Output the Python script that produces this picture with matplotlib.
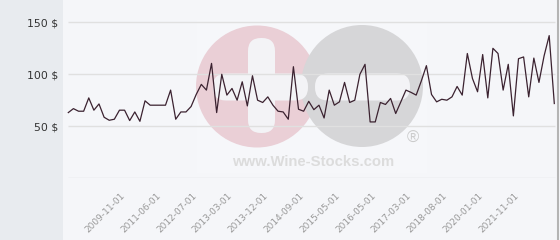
import matplotlib
matplotlib.use("Agg")
import matplotlib.pyplot as plt
from matplotlib.patches import Circle, Rectangle, FancyBboxPatch
import matplotlib.transforms as mtransforms

# monthly price points (USD)
prices = [
    63.2, 67, 64.5, 64.5, 77.3, 65.5, 71.5, 58.7, 55.8, 56.8,
    65.5, 65.5, 55.5, 63.8, 54.8, 74.5, 70.3, 70.3, 70.3, 70.3,
    84.8, 56.8, 63.8, 63.8, 69, 80.6, 90.3, 84.8, 110.5, 63.2,
    100, 80, 86.4, 75.1, 92.8, 69.6, 98.6, 75.1, 72.9, 78.3,
    70.3, 64.5, 63.8, 56.8, 107.3, 66.4, 64.5, 74, 66, 70.3,
    58, 84.8, 70.3, 73.5, 92.2, 72.9, 75.1, 100, 109.6, 54.2,
    54.2, 72.9, 71, 76.8, 62.3, 73.5, 84.8, 82.6, 80, 93.5,
    108.3, 80.6, 73.5, 76, 75.1, 78.3, 88.3, 80, 120, 96,
    83.2, 119, 77.3, 125, 120, 84.8, 109.6, 60, 115, 116.7,
    78.3, 115.6, 92.2, 117.6, 137.2, 71.9,
]

tick_labels = [
    "2009-11-01", "2011-06-01", "2012-07-01", "2013-03-01",
    "2013-12-01", "2014-09-01", "2015-05-01", "2016-05-01",
    "2017-03-01", "2018-08-01", "2020-01-01", "2021-11-01",
]
first_tick = 10
tick_step = 7

y_ticks = [50, 100, 150]
y_labels = ["50 $", "100 $", "150 $"]

W, H = 560, 240
fig = plt.figure(figsize=(W / 100, H / 100), dpi=100)
fig.patch.set_facecolor("#f5f6f9")

# background layer in pixel units (watermark, side panel)
bg = fig.add_axes([0, 0, 1, 1], zorder=0)
bg.set_xlim(0, W)
bg.set_ylim(H, 0)
bg.axis("off")
bg.add_patch(Rectangle((0, 0), 63, H, color="#e8ebef", lw=0))
bg.add_patch(Rectangle((197, 20), 230, 153, color="white", alpha=0.2, lw=0))
bg.add_patch(Circle((257, 86.5), 61, color="#eacfd6", lw=0))
bg.add_patch(Circle((362, 86), 61, color="#d6d6d8", lw=0))
bar_col = "#f3f3f6"
bg.add_patch(FancyBboxPatch((248, 38), 27, 95, boxstyle="round,pad=0,rounding_size=13",
                            color=bar_col, lw=0))
bg.add_patch(FancyBboxPatch((213, 73.5), 95, 27, boxstyle="round,pad=0,rounding_size=13",
                            color=bar_col, lw=0))
bg.add_patch(FancyBboxPatch((315, 73.5), 95, 27, boxstyle="round,pad=0,rounding_size=13",
                            color=bar_col, lw=0))
bg.text(313, 162, "www.Wine-Stocks.com", ha="center", va="center",
        fontsize=10.7, fontweight="bold", family="Liberation Sans", color="#dcdcdc")
bg.text(413, 138, "\u00ae", ha="center", va="center", fontsize=12,
        family="Liberation Sans", color="#cbcbcb")
bg.plot([557.5, 557.5], [0, H], color="#b4b4b4", lw=1.5)

# main chart
step_px = 5.116
px_per_usd = 1.04
bottom_px = 178.3
ax = fig.add_axes([63 / W, (H - bottom_px) / H, (557.5 - 63) / W, bottom_px / H], zorder=1)
ax.set_facecolor("none")
n = len(prices)
ax.set_xlim(-(68.3 - 63) / step_px, (n - 1) + (557.5 - 554.3) / step_px)
ax.set_ylim(0, bottom_px / px_per_usd)

ax.hlines([0] + y_ticks, 0, n - 0.9, color="#e0e0e0", lw=1, zorder=1)
ax.plot(range(n), prices, color="#3b2230", lw=0.9, zorder=3)

for s in ax.spines.values():
    s.set_visible(False)

ax.set_yticks(y_ticks)
ax.set_yticklabels(y_labels, fontsize=7.8, color="#333333")
positions = [first_tick + i * tick_step for i in range(len(tick_labels))]
ax.set_xticks(positions)
ax.set_xticklabels(tick_labels, fontsize=6.5, color="#999999", rotation=45,
                   ha="right", va="top", rotation_mode="anchor")
ax.tick_params(axis="both", length=0)
ax.tick_params(axis="y", pad=3.5)
ax.tick_params(axis="x", pad=9)

offset = mtransforms.ScaledTranslation(1 / 100, 0, fig.dpi_scale_trans)
for lab in ax.get_xticklabels():
    lab.set_transform(lab.get_transform() + offset)

fig.savefig("out.png", dpi=100, facecolor=fig.get_facecolor())
plt.close(fig)
